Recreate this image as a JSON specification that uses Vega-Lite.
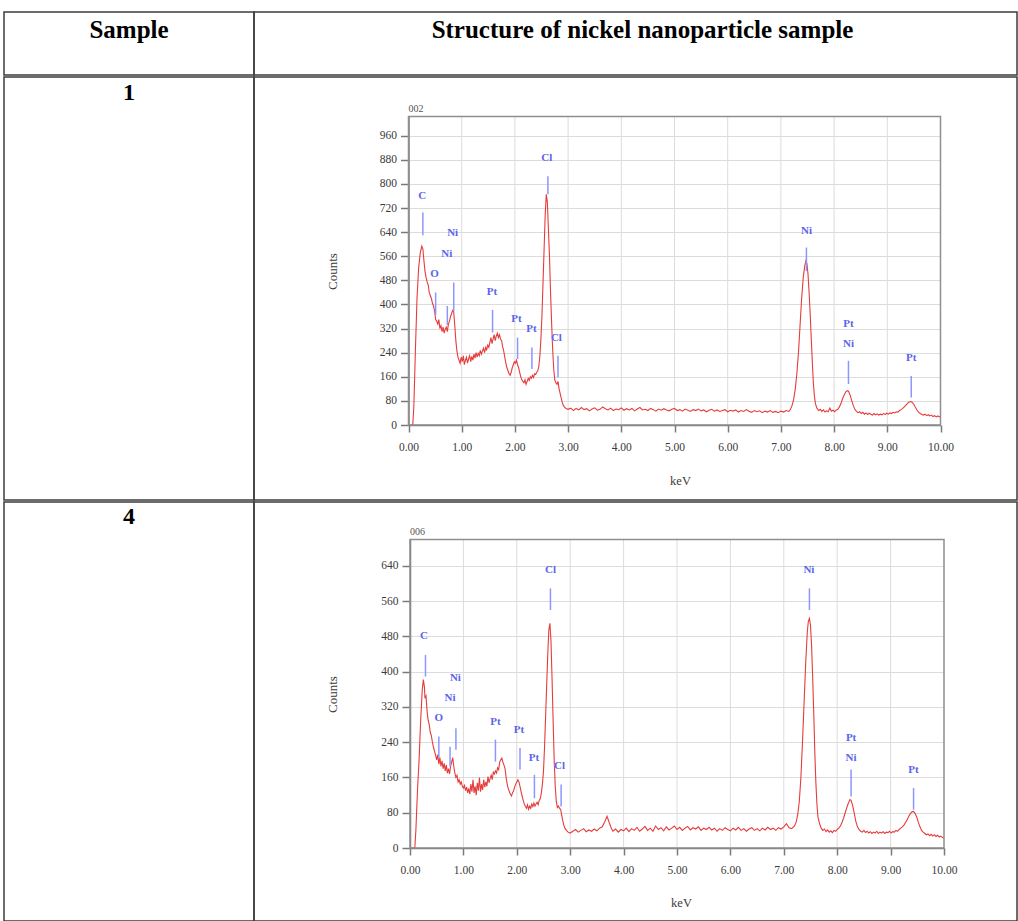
{
 "$schema": "https://vega.github.io/schema/vega-lite/v6.json",
 "background": "white",
 "padding": {"left": 3, "top": 11, "right": 0, "bottom": 0},
 "spacing": 0,
 "config": {"view": {"stroke": "#3c3c3c", "strokeWidth": 1.5}, "font": "Liberation Serif", "concat": {"spacing": 0}},
 "datasets": {
  "frame1": [{"e": 0, "e2": 10, "c": 0, "c2": 1024}],
  "frame2": [{"e": 0, "e2": 10, "c": 0, "c2": 700}],
  "gx": [{"e":1},{"e":2},{"e":3},{"e":4},{"e":5},{"e":6},{"e":7},{"e":8},{"e":9}],
  "s1": [
   {"e":0,"c":0},{"e":0.05,"c":0},{"e":0.08,"c":0},{"e":0.10,"c":60},{"e":0.13,"c":250},{"e":0.16,"c":420},{"e":0.19,"c":520},{"e":0.22,"c":570},{"e":0.25,"c":594},{"e":0.27,"c":585},{"e":0.29,"c":545},{"e":0.31,"c":510},{"e":0.33,"c":490},{"e":0.35,"c":475},{"e":0.37,"c":465},{"e":0.39,"c":440},{"e":0.41,"c":430},{"e":0.43,"c":420},{"e":0.45,"c":405},{"e":0.47,"c":395},{"e":0.49,"c":380},{"e":0.51,"c":350},{"e":0.53,"c":345},{"e":0.55,"c":335},{"e":0.57,"c":350},{"e":0.59,"c":320},{"e":0.61,"c":330},{"e":0.63,"c":310},{"e":0.65,"c":325},{"e":0.67,"c":305},{"e":0.69,"c":318},{"e":0.71,"c":325},{"e":0.73,"c":310},{"e":0.75,"c":335},{"e":0.77,"c":345},{"e":0.79,"c":360},{"e":0.81,"c":370},{"e":0.83,"c":380},{"e":0.85,"c":375},{"e":0.87,"c":330},{"e":0.89,"c":280},{"e":0.91,"c":245},{"e":0.93,"c":225},{"e":0.95,"c":215},{"e":0.97,"c":205},{"e":0.99,"c":225},{"e":1.01,"c":210},{"e":1.03,"c":230},{"e":1.05,"c":200},{"e":1.07,"c":215},{"e":1.09,"c":225},{"e":1.11,"c":205},{"e":1.13,"c":220},{"e":1.15,"c":230},{"e":1.17,"c":210},{"e":1.19,"c":228},{"e":1.21,"c":215},{"e":1.23,"c":235},{"e":1.25,"c":222},{"e":1.27,"c":240},{"e":1.29,"c":225},{"e":1.31,"c":238},{"e":1.33,"c":230},{"e":1.35,"c":248},{"e":1.37,"c":235},{"e":1.39,"c":245},{"e":1.41,"c":255},{"e":1.43,"c":240},{"e":1.45,"c":258},{"e":1.47,"c":250},{"e":1.49,"c":265},{"e":1.51,"c":258},{"e":1.53,"c":275},{"e":1.55,"c":290},{"e":1.57,"c":270},{"e":1.59,"c":285},{"e":1.61,"c":300},{"e":1.63,"c":280},{"e":1.65,"c":295},{"e":1.67,"c":305},{"e":1.69,"c":290},{"e":1.71,"c":300},{"e":1.73,"c":285},{"e":1.75,"c":280},{"e":1.77,"c":260},{"e":1.79,"c":245},{"e":1.81,"c":225},{"e":1.83,"c":205},{"e":1.85,"c":190},{"e":1.87,"c":180},{"e":1.89,"c":170},{"e":1.91,"c":165},{"e":1.93,"c":175},{"e":1.95,"c":190},{"e":1.97,"c":200},{"e":1.99,"c":210},{"e":2.01,"c":205},{"e":2.03,"c":215},{"e":2.05,"c":200},{"e":2.07,"c":190},{"e":2.09,"c":175},{"e":2.11,"c":160},{"e":2.13,"c":150},{"e":2.15,"c":145},{"e":2.17,"c":140},{"e":2.19,"c":150},{"e":2.21,"c":135},{"e":2.23,"c":145},{"e":2.25,"c":155},{"e":2.27,"c":148},{"e":2.29,"c":160},{"e":2.31,"c":155},{"e":2.33,"c":165},{"e":2.35,"c":158},{"e":2.37,"c":170},{"e":2.39,"c":168},{"e":2.41,"c":175},{"e":2.43,"c":180},{"e":2.45,"c":195},{"e":2.47,"c":230},{"e":2.49,"c":290},{"e":2.51,"c":370},{"e":2.53,"c":480},{"e":2.55,"c":590},{"e":2.57,"c":700},{"e":2.59,"c":766},{"e":2.61,"c":740},{"e":2.63,"c":650},{"e":2.65,"c":560},{"e":2.67,"c":440},{"e":2.69,"c":340},{"e":2.71,"c":250},{"e":2.73,"c":185},{"e":2.75,"c":150},{"e":2.77,"c":140},{"e":2.79,"c":135},{"e":2.81,"c":145},{"e":2.83,"c":120},{"e":2.85,"c":105},{"e":2.87,"c":90},{"e":2.89,"c":75},{"e":2.91,"c":65},{"e":2.93,"c":60},{"e":2.96,"c":55},
   {"e":3.00,"c":52},{"e":3.05,"c":56},{"e":3.10,"c":48},{"e":3.15,"c":55},{"e":3.20,"c":50},{"e":3.25,"c":58},{"e":3.30,"c":51},{"e":3.35,"c":54},{"e":3.40,"c":47},{"e":3.45,"c":53},{"e":3.50,"c":57},{"e":3.55,"c":49},{"e":3.60,"c":52},{"e":3.65,"c":60},{"e":3.70,"c":54},{"e":3.75,"c":50},{"e":3.80,"c":56},{"e":3.85,"c":48},{"e":3.90,"c":53},{"e":3.95,"c":51},{"e":4.00,"c":57},{"e":4.05,"c":49},{"e":4.10,"c":54},{"e":4.15,"c":50},{"e":4.20,"c":55},{"e":4.25,"c":47},{"e":4.30,"c":53},{"e":4.35,"c":58},{"e":4.40,"c":50},{"e":4.45,"c":52},{"e":4.50,"c":48},{"e":4.55,"c":55},{"e":4.60,"c":51},{"e":4.65,"c":46},{"e":4.70,"c":53},{"e":4.75,"c":49},{"e":4.80,"c":54},{"e":4.85,"c":50},{"e":4.90,"c":47},{"e":4.95,"c":52},{"e":5.00,"c":55},{"e":5.05,"c":48},{"e":5.10,"c":51},{"e":5.15,"c":46},{"e":5.20,"c":53},{"e":5.25,"c":49},{"e":5.30,"c":45},{"e":5.35,"c":51},{"e":5.40,"c":48},{"e":5.45,"c":53},{"e":5.50,"c":47},{"e":5.55,"c":50},{"e":5.60,"c":44},{"e":5.65,"c":49},{"e":5.70,"c":52},{"e":5.75,"c":46},{"e":5.80,"c":50},{"e":5.85,"c":45},{"e":5.90,"c":48},{"e":5.95,"c":51},{"e":6.00,"c":44},{"e":6.05,"c":49},{"e":6.10,"c":46},{"e":6.15,"c":50},{"e":6.20,"c":43},{"e":6.25,"c":48},{"e":6.30,"c":45},{"e":6.35,"c":51},{"e":6.40,"c":46},{"e":6.45,"c":42},{"e":6.50,"c":48},{"e":6.55,"c":44},{"e":6.60,"c":47},{"e":6.65,"c":41},{"e":6.70,"c":46},{"e":6.75,"c":43},{"e":6.80,"c":48},{"e":6.85,"c":42},{"e":6.90,"c":45},{"e":6.95,"c":41},{"e":7.00,"c":46},{"e":7.05,"c":43},{"e":7.10,"c":48},{"e":7.15,"c":45},{"e":7.18,"c":52},
   {"e":7.21,"c":65},{"e":7.24,"c":85},{"e":7.27,"c":120},{"e":7.30,"c":170},{"e":7.33,"c":240},{"e":7.36,"c":330},{"e":7.39,"c":420},{"e":7.42,"c":490},{"e":7.45,"c":530},{"e":7.47,"c":545},{"e":7.49,"c":535},{"e":7.51,"c":500},{"e":7.53,"c":440},{"e":7.55,"c":370},{"e":7.57,"c":290},{"e":7.59,"c":210},{"e":7.61,"c":140},{"e":7.63,"c":95},{"e":7.65,"c":70},{"e":7.68,"c":55},{"e":7.71,"c":48},{"e":7.74,"c":52},{"e":7.77,"c":45},{"e":7.80,"c":50},{"e":7.83,"c":43},{"e":7.86,"c":47},{"e":7.89,"c":44},{"e":7.92,"c":56},{"e":7.95,"c":46},{"e":7.98,"c":49},{"e":8.01,"c":44},{"e":8.04,"c":50},{"e":8.07,"c":52},{"e":8.10,"c":60},{"e":8.13,"c":72},{"e":8.16,"c":88},{"e":8.19,"c":100},{"e":8.22,"c":110},{"e":8.25,"c":114},{"e":8.27,"c":112},{"e":8.30,"c":100},{"e":8.33,"c":82},{"e":8.36,"c":65},{"e":8.39,"c":52},{"e":8.42,"c":45},{"e":8.45,"c":41},{"e":8.48,"c":44},{"e":8.51,"c":38},{"e":8.54,"c":42},{"e":8.57,"c":36},{"e":8.60,"c":40},{"e":8.63,"c":35},{"e":8.66,"c":39},{"e":8.69,"c":36},{"e":8.72,"c":33},{"e":8.75,"c":38},{"e":8.78,"c":34},{"e":8.81,"c":37},{"e":8.84,"c":33},{"e":8.87,"c":36},{"e":8.90,"c":34},{"e":8.93,"c":38},{"e":8.96,"c":35},{"e":8.99,"c":39},{"e":9.02,"c":36},{"e":9.05,"c":40},{"e":9.08,"c":38},{"e":9.11,"c":42},{"e":9.14,"c":40},{"e":9.17,"c":44},{"e":9.20,"c":43},{"e":9.23,"c":48},{"e":9.26,"c":51},{"e":9.29,"c":55},{"e":9.32,"c":60},{"e":9.35,"c":66},{"e":9.38,"c":72},{"e":9.41,"c":76},{"e":9.44,"c":78},{"e":9.47,"c":75},{"e":9.50,"c":68},{"e":9.53,"c":58},{"e":9.56,"c":49},{"e":9.59,"c":42},{"e":9.62,"c":38},{"e":9.65,"c":35},{"e":9.68,"c":33},{"e":9.71,"c":36},{"e":9.74,"c":31},{"e":9.77,"c":34},{"e":9.80,"c":30},{"e":9.83,"c":33},{"e":9.86,"c":28},{"e":9.89,"c":31},{"e":9.92,"c":27},{"e":9.95,"c":30},{"e":9.98,"c":27},{"e":10.00,"c":29}
  ],
  "s4": [
   {"e":0,"c":0},{"e":0.05,"c":0},{"e":0.09,"c":0},{"e":0.11,"c":40},{"e":0.14,"c":130},{"e":0.17,"c":200},{"e":0.20,"c":290},{"e":0.23,"c":360},{"e":0.25,"c":382},{"e":0.27,"c":365},{"e":0.28,"c":340},{"e":0.30,"c":345},{"e":0.32,"c":310},{"e":0.34,"c":290},{"e":0.36,"c":280},{"e":0.38,"c":262},{"e":0.40,"c":255},{"e":0.42,"c":240},{"e":0.44,"c":228},{"e":0.46,"c":220},{"e":0.48,"c":210},{"e":0.50,"c":200},{"e":0.52,"c":212},{"e":0.54,"c":190},{"e":0.56,"c":205},{"e":0.58,"c":185},{"e":0.60,"c":198},{"e":0.62,"c":180},{"e":0.64,"c":192},{"e":0.66,"c":175},{"e":0.68,"c":188},{"e":0.70,"c":170},{"e":0.72,"c":180},{"e":0.74,"c":168},{"e":0.76,"c":185},{"e":0.78,"c":195},{"e":0.80,"c":205},{"e":0.82,"c":185},{"e":0.84,"c":170},{"e":0.86,"c":160},{"e":0.88,"c":165},{"e":0.90,"c":150},{"e":0.92,"c":155},{"e":0.94,"c":145},{"e":0.96,"c":150},{"e":0.98,"c":140},{"e":1.00,"c":136},{"e":1.02,"c":142},{"e":1.04,"c":130},{"e":1.06,"c":138},{"e":1.08,"c":125},{"e":1.10,"c":135},{"e":1.12,"c":122},{"e":1.14,"c":145},{"e":1.16,"c":128},{"e":1.18,"c":155},{"e":1.20,"c":125},{"e":1.22,"c":140},{"e":1.24,"c":120},{"e":1.26,"c":148},{"e":1.28,"c":130},{"e":1.30,"c":160},{"e":1.32,"c":128},{"e":1.34,"c":145},{"e":1.36,"c":132},{"e":1.38,"c":155},{"e":1.40,"c":138},{"e":1.42,"c":150},{"e":1.44,"c":140},{"e":1.46,"c":162},{"e":1.48,"c":148},{"e":1.50,"c":158},{"e":1.52,"c":165},{"e":1.54,"c":155},{"e":1.56,"c":172},{"e":1.58,"c":168},{"e":1.60,"c":175},{"e":1.62,"c":170},{"e":1.64,"c":182},{"e":1.66,"c":178},{"e":1.68,"c":195},{"e":1.70,"c":200},{"e":1.72,"c":204},{"e":1.74,"c":195},{"e":1.76,"c":188},{"e":1.78,"c":180},{"e":1.80,"c":160},{"e":1.82,"c":145},{"e":1.84,"c":135},{"e":1.86,"c":128},{"e":1.88,"c":122},{"e":1.90,"c":118},{"e":1.92,"c":125},{"e":1.94,"c":130},{"e":1.96,"c":138},{"e":1.98,"c":145},{"e":2.00,"c":150},{"e":2.02,"c":155},{"e":2.04,"c":150},{"e":2.06,"c":140},{"e":2.08,"c":128},{"e":2.10,"c":118},{"e":2.12,"c":108},{"e":2.14,"c":100},{"e":2.16,"c":95},{"e":2.18,"c":90},{"e":2.20,"c":98},{"e":2.22,"c":88},{"e":2.24,"c":95},{"e":2.26,"c":90},{"e":2.28,"c":100},{"e":2.30,"c":94},{"e":2.32,"c":102},{"e":2.34,"c":95},{"e":2.36,"c":100},{"e":2.38,"c":104},{"e":2.40,"c":98},{"e":2.42,"c":108},{"e":2.44,"c":112},{"e":2.46,"c":125},{"e":2.48,"c":145},{"e":2.50,"c":175},{"e":2.52,"c":230},{"e":2.54,"c":300},{"e":2.56,"c":370},{"e":2.58,"c":440},{"e":2.60,"c":495},{"e":2.62,"c":510},{"e":2.64,"c":470},{"e":2.66,"c":385},{"e":2.68,"c":290},{"e":2.70,"c":200},{"e":2.72,"c":140},{"e":2.74,"c":105},{"e":2.76,"c":92},{"e":2.78,"c":95},{"e":2.80,"c":90},{"e":2.82,"c":88},{"e":2.84,"c":75},{"e":2.86,"c":62},{"e":2.88,"c":52},{"e":2.90,"c":45},{"e":2.93,"c":40},{"e":2.96,"c":36},{"e":3.00,"c":34},
   {"e":3.05,"c":38},{"e":3.10,"c":42},{"e":3.15,"c":36},{"e":3.20,"c":40},{"e":3.25,"c":44},{"e":3.30,"c":37},{"e":3.35,"c":41},{"e":3.40,"c":38},{"e":3.45,"c":43},{"e":3.50,"c":39},{"e":3.55,"c":45},{"e":3.60,"c":48},{"e":3.65,"c":60},{"e":3.69,"c":72},{"e":3.73,"c":58},{"e":3.77,"c":45},{"e":3.80,"c":38},{"e":3.85,"c":43},{"e":3.90,"c":36},{"e":3.95,"c":42},{"e":4.00,"c":39},{"e":4.05,"c":45},{"e":4.10,"c":37},{"e":4.15,"c":44},{"e":4.20,"c":40},{"e":4.25,"c":47},{"e":4.30,"c":38},{"e":4.35,"c":43},{"e":4.40,"c":49},{"e":4.45,"c":40},{"e":4.50,"c":45},{"e":4.55,"c":38},{"e":4.60,"c":50},{"e":4.65,"c":42},{"e":4.70,"c":46},{"e":4.75,"c":39},{"e":4.80,"c":48},{"e":4.85,"c":41},{"e":4.90,"c":45},{"e":4.95,"c":50},{"e":5.00,"c":42},{"e":5.05,"c":47},{"e":5.10,"c":40},{"e":5.15,"c":45},{"e":5.20,"c":49},{"e":5.25,"c":41},{"e":5.30,"c":46},{"e":5.35,"c":43},{"e":5.40,"c":48},{"e":5.45,"c":40},{"e":5.50,"c":45},{"e":5.55,"c":42},{"e":5.60,"c":47},{"e":5.65,"c":41},{"e":5.70,"c":45},{"e":5.75,"c":38},{"e":5.80,"c":44},{"e":5.85,"c":40},{"e":5.90,"c":46},{"e":5.95,"c":42},{"e":6.00,"c":39},{"e":6.05,"c":45},{"e":6.10,"c":41},{"e":6.15,"c":47},{"e":6.20,"c":40},{"e":6.25,"c":44},{"e":6.30,"c":38},{"e":6.35,"c":43},{"e":6.40,"c":46},{"e":6.45,"c":40},{"e":6.50,"c":44},{"e":6.55,"c":39},{"e":6.60,"c":45},{"e":6.65,"c":41},{"e":6.70,"c":47},{"e":6.75,"c":42},{"e":6.80,"c":45},{"e":6.85,"c":40},{"e":6.90,"c":46},{"e":6.95,"c":43},{"e":7.00,"c":48},{"e":7.05,"c":55},{"e":7.10,"c":46},{"e":7.15,"c":44},{"e":7.20,"c":50},
   {"e":7.23,"c":58},{"e":7.26,"c":75},{"e":7.29,"c":105},{"e":7.32,"c":160},{"e":7.35,"c":240},{"e":7.38,"c":330},{"e":7.41,"c":420},{"e":7.44,"c":490},{"e":7.46,"c":515},{"e":7.48,"c":521},{"e":7.50,"c":505},{"e":7.52,"c":460},{"e":7.54,"c":390},{"e":7.56,"c":310},{"e":7.58,"c":220},{"e":7.60,"c":150},{"e":7.62,"c":100},{"e":7.64,"c":70},{"e":7.67,"c":55},{"e":7.70,"c":45},{"e":7.73,"c":40},{"e":7.76,"c":43},{"e":7.79,"c":37},{"e":7.82,"c":41},{"e":7.85,"c":36},{"e":7.88,"c":39},{"e":7.91,"c":35},{"e":7.94,"c":40},{"e":7.97,"c":38},{"e":8.00,"c":42},{"e":8.03,"c":45},{"e":8.06,"c":50},{"e":8.09,"c":58},{"e":8.12,"c":68},{"e":8.15,"c":80},{"e":8.18,"c":92},{"e":8.21,"c":102},{"e":8.24,"c":110},{"e":8.26,"c":108},{"e":8.29,"c":96},{"e":8.32,"c":78},{"e":8.35,"c":60},{"e":8.38,"c":48},{"e":8.41,"c":42},{"e":8.44,"c":38},{"e":8.47,"c":36},{"e":8.50,"c":40},{"e":8.53,"c":35},{"e":8.56,"c":38},{"e":8.59,"c":34},{"e":8.62,"c":37},{"e":8.65,"c":33},{"e":8.68,"c":36},{"e":8.71,"c":34},{"e":8.74,"c":38},{"e":8.77,"c":33},{"e":8.80,"c":36},{"e":8.83,"c":34},{"e":8.86,"c":37},{"e":8.89,"c":33},{"e":8.92,"c":36},{"e":8.95,"c":35},{"e":8.98,"c":38},{"e":9.01,"c":34},{"e":9.04,"c":37},{"e":9.07,"c":36},{"e":9.10,"c":40},{"e":9.13,"c":38},{"e":9.16,"c":42},{"e":9.19,"c":45},{"e":9.22,"c":48},{"e":9.25,"c":52},{"e":9.28,"c":58},{"e":9.31,"c":64},{"e":9.34,"c":72},{"e":9.37,"c":78},{"e":9.40,"c":82},{"e":9.43,"c":83},{"e":9.46,"c":78},{"e":9.49,"c":70},{"e":9.52,"c":58},{"e":9.55,"c":48},{"e":9.58,"c":40},{"e":9.61,"c":36},{"e":9.64,"c":33},{"e":9.67,"c":30},{"e":9.70,"c":32},{"e":9.73,"c":28},{"e":9.76,"c":31},{"e":9.79,"c":27},{"e":9.82,"c":30},{"e":9.85,"c":26},{"e":9.88,"c":29},{"e":9.91,"c":25},{"e":9.94,"c":27},{"e":9.97,"c":24},{"e":10.00,"c":23}
  ],
  "l1": [
   {"e":0.26,"c":760,"t":"C"},{"e":0.49,"c":500,"t":"O"},{"e":0.72,"c":567,"t":"Ni"},{"e":0.83,"c":638,"t":"Ni"},{"e":1.57,"c":440,"t":"Pt"},{"e":2.03,"c":351,"t":"Pt"},{"e":2.31,"c":318,"t":"Pt"},{"e":2.60,"c":887,"t":"Cl"},{"e":2.78,"c":290,"t":"Cl"},{"e":7.48,"c":644,"t":"Ni"},{"e":8.27,"c":335,"t":"Pt"},{"e":8.27,"c":268,"t":"Ni"},{"e":9.45,"c":224,"t":"Pt"}
  ],
  "k1": [
   {"e":0.27,"c":630,"c2":705},{"e":0.51,"c":365,"c2":440},{"e":0.73,"c":332,"c2":395},{"e":0.85,"c":378,"c2":473},{"e":1.58,"c":307,"c2":382},{"e":2.05,"c":219,"c2":290},{"e":2.32,"c":186,"c2":257},{"e":2.62,"c":766,"c2":826},{"e":2.81,"c":158,"c2":230},{"e":7.48,"c":511,"c2":589},{"e":8.27,"c":136,"c2":213},{"e":9.45,"c":91,"c2":163}
  ],
  "l4": [
   {"e":0.26,"c":480,"t":"C"},{"e":0.54,"c":295,"t":"O"},{"e":0.75,"c":340,"t":"Ni"},{"e":0.85,"c":385,"t":"Ni"},{"e":1.60,"c":287,"t":"Pt"},{"e":2.04,"c":268,"t":"Pt"},{"e":2.32,"c":204,"t":"Pt"},{"e":2.63,"c":631,"t":"Cl"},{"e":2.80,"c":185,"t":"Cl"},{"e":7.47,"c":631,"t":"Ni"},{"e":8.26,"c":249,"t":"Pt"},{"e":8.26,"c":204,"t":"Ni"},{"e":9.43,"c":178,"t":"Pt"}
  ],
  "k4": [
   {"e":0.29,"c":389,"c2":438},{"e":0.54,"c":204,"c2":253},{"e":0.75,"c":185,"c2":230},{"e":0.86,"c":223,"c2":272},{"e":1.60,"c":196,"c2":246},{"e":2.06,"c":178,"c2":227},{"e":2.33,"c":113,"c2":166},{"e":2.63,"c":540,"c2":589},{"e":2.83,"c":94,"c2":144},{"e":7.48,"c":540,"c2":589},{"e":8.26,"c":117,"c2":178},{"e":9.43,"c":87,"c2":136}
  ]
 },
 "vconcat": [
  {
   "spacing": 0, "bounds": "flush",
   "hconcat": [
    {"width": 250, "height": 63, "data": {"values": [{"t": "Sample"}]}, "mark": {"type": "text", "fontSize": 25, "fontWeight": "bold", "dy": -14, "color": "black"},
     "encoding": {"x": {"field": "t", "type": "nominal", "axis": null}, "y": {"field": "t", "type": "nominal", "axis": null}, "text": {"field": "t"}}},
    {"width": 763, "height": 63, "data": {"values": [{"t": "Structure of nickel nanoparticle sample"}]}, "mark": {"type": "text", "fontSize": 25, "fontWeight": "bold", "dy": -14, "dx": 7, "color": "black"},
     "encoding": {"x": {"field": "t", "type": "nominal", "axis": null}, "y": {"field": "t", "type": "nominal", "axis": null}, "text": {"field": "t"}}}
   ]
  },
  {
   "spacing": 0, "bounds": "flush",
   "hconcat": [
    {"width": 250, "height": 423, "data": {"values": [{"t": "1"}]}, "mark": {"type": "text", "fontSize": 24, "fontWeight": "bold", "dy": -196, "color": "black"},
     "encoding": {"x": {"field": "t", "type": "nominal", "axis": null}, "y": {"field": "t", "type": "nominal", "axis": null}, "text": {"field": "t"}}},
    {"width": 763, "height": 423,
     "layer": [
      {"data": {"name": "gx"}, "mark": {"type": "rule", "color": "#dcdcdc", "strokeWidth": 1},
       "encoding": {"x": {"field": "e", "type": "quantitative"}, "y": {"datum": 0, "type": "quantitative"}, "y2": {"datum": 1024}}},
      {"data": {"name": "s1"}, "mark": {"type": "line", "color": "#e63c3c", "strokeWidth": 1.1},
       "encoding": {
        "x": {"field": "e", "type": "quantitative", "scale": {"domain": [0, 10], "range": [154.5, 686.5], "nice": false, "zero": false},
              "axis": {"title": "keV", "values": [0,1,2,3,4,5,6,7,8,9,10], "tickCount": 30, "format": ".2f", "offset": -75, "grid": false, "domainColor": "#7a7a7a", "domainWidth": 1.5, "tickColor": "#7a7a7a", "tickSize": 7, "tickWidth": 1.5, "labelFontSize": 11.5, "labelColor": "#3a3a3a", "labelPadding": 9, "labelFlush": false, "labelOverlap": false, "titleFontSize": 12.5, "titleFontWeight": "normal", "titleColor": "#3a3a3a", "titleX": 426, "titleY": 55, "titleBaseline": "middle", "titleAlign": "center"}},
        "y": {"field": "c", "type": "quantitative", "scale": {"domain": [0, 1024], "range": [348, 39.5], "nice": false, "zero": false},
              "axis": {"title": "Counts", "values": [0,80,160,240,320,400,480,560,640,720,800,880,960], "tickCount": 30, "offset": -154.5, "grid": true, "gridColor": "#dcdcdc", "gridWidth": 1, "domainColor": "#7a7a7a", "domainWidth": 1.5, "tickColor": "#7a7a7a", "tickSize": 8, "tickWidth": 1.5, "labelFontSize": 11.5, "labelColor": "#3a3a3a", "labelPadding": 4, "labelFlush": false, "labelOverlap": false, "titleFontSize": 13, "titleFontWeight": "normal", "titleColor": "#3a3a3a", "titleX": -76.5, "titleY": 194, "titleBaseline": "middle", "titleAlign": "center", "titleAngle": -90}}
       }},
      {"data": {"name": "frame1"}, "mark": {"type": "rect", "fillOpacity": 0, "stroke": "#8f8f8f", "strokeWidth": 1.5},
       "encoding": {"x": {"field": "e", "type": "quantitative"}, "x2": {"field": "e2"}, "y": {"field": "c", "type": "quantitative"}, "y2": {"field": "c2"}}},
      {"data": {"name": "k1"}, "mark": {"type": "rule", "color": "#8c96ff", "strokeWidth": 1.5},
       "encoding": {"x": {"field": "e", "type": "quantitative"}, "y": {"field": "c", "type": "quantitative"}, "y2": {"field": "c2"}}},
      {"data": {"name": "l1"}, "mark": {"type": "text", "color": "#5a64ec", "fontSize": 11, "fontWeight": "bold"},
       "encoding": {"x": {"field": "e", "type": "quantitative"}, "y": {"field": "c", "type": "quantitative"}, "text": {"field": "t"}}},
      {"data": {"values": [{"e": 0, "c": 1024, "t": "002"}]}, "mark": {"type": "text", "align": "left", "baseline": "bottom", "dy": -3, "fontSize": 10, "color": "#555"},
       "encoding": {"x": {"field": "e", "type": "quantitative"}, "y": {"field": "c", "type": "quantitative"}, "text": {"field": "t"}}}
     ]
    }
   ]
  },
  {
   "spacing": 0, "bounds": "flush",
   "hconcat": [
    {"width": 250, "height": 419, "data": {"values": [{"t": "4"}]}, "mark": {"type": "text", "fontSize": 24, "fontWeight": "bold", "dy": -195, "color": "black"},
     "encoding": {"x": {"field": "t", "type": "nominal", "axis": null}, "y": {"field": "t", "type": "nominal", "axis": null}, "text": {"field": "t"}}},
    {"width": 763, "height": 419,
     "layer": [
      {"data": {"name": "gx"}, "mark": {"type": "rule", "color": "#dcdcdc", "strokeWidth": 1},
       "encoding": {"x": {"field": "e", "type": "quantitative"}, "y": {"datum": 0, "type": "quantitative"}, "y2": {"datum": 700}}},
      {"data": {"name": "s4"}, "mark": {"type": "line", "color": "#e63c3c", "strokeWidth": 1.1},
       "encoding": {
        "x": {"field": "e", "type": "quantitative", "scale": {"domain": [0, 10], "range": [156, 690], "nice": false, "zero": false},
              "axis": {"title": "keV", "values": [0,1,2,3,4,5,6,7,8,9,10], "tickCount": 30, "format": ".2f", "offset": -73, "grid": false, "domainColor": "#7a7a7a", "domainWidth": 1.5, "tickColor": "#7a7a7a", "tickSize": 7, "tickWidth": 1.5, "labelFontSize": 11.5, "labelColor": "#3a3a3a", "labelPadding": 9, "labelFlush": false, "labelOverlap": false, "titleFontSize": 12.5, "titleFontWeight": "normal", "titleColor": "#3a3a3a", "titleX": 427, "titleY": 54, "titleBaseline": "middle", "titleAlign": "center"}},
        "y": {"field": "c", "type": "quantitative", "scale": {"domain": [0, 700], "range": [346, 37.5], "nice": false, "zero": false},
              "axis": {"title": "Counts", "values": [0,80,160,240,320,400,480,560,640], "tickCount": 30, "offset": -156, "grid": true, "gridColor": "#dcdcdc", "gridWidth": 1, "domainColor": "#7a7a7a", "domainWidth": 1.5, "tickColor": "#7a7a7a", "tickSize": 8, "tickWidth": 1.5, "labelFontSize": 11.5, "labelColor": "#3a3a3a", "labelPadding": 4, "labelFlush": false, "labelOverlap": false, "titleFontSize": 13, "titleFontWeight": "normal", "titleColor": "#3a3a3a", "titleX": -78, "titleY": 192, "titleBaseline": "middle", "titleAlign": "center", "titleAngle": -90}}
       }},
      {"data": {"name": "frame2"}, "mark": {"type": "rect", "fillOpacity": 0, "stroke": "#8f8f8f", "strokeWidth": 1.5},
       "encoding": {"x": {"field": "e", "type": "quantitative"}, "x2": {"field": "e2"}, "y": {"field": "c", "type": "quantitative"}, "y2": {"field": "c2"}}},
      {"data": {"name": "k4"}, "mark": {"type": "rule", "color": "#8c96ff", "strokeWidth": 1.5},
       "encoding": {"x": {"field": "e", "type": "quantitative"}, "y": {"field": "c", "type": "quantitative"}, "y2": {"field": "c2"}}},
      {"data": {"name": "l4"}, "mark": {"type": "text", "color": "#5a64ec", "fontSize": 11, "fontWeight": "bold"},
       "encoding": {"x": {"field": "e", "type": "quantitative"}, "y": {"field": "c", "type": "quantitative"}, "text": {"field": "t"}}},
      {"data": {"values": [{"e": 0, "c": 700, "t": "006"}]}, "mark": {"type": "text", "align": "left", "baseline": "bottom", "dy": -3, "fontSize": 10, "color": "#555"},
       "encoding": {"x": {"field": "e", "type": "quantitative"}, "y": {"field": "c", "type": "quantitative"}, "text": {"field": "t"}}}
     ]
    }
   ]
  }
 ]
}
